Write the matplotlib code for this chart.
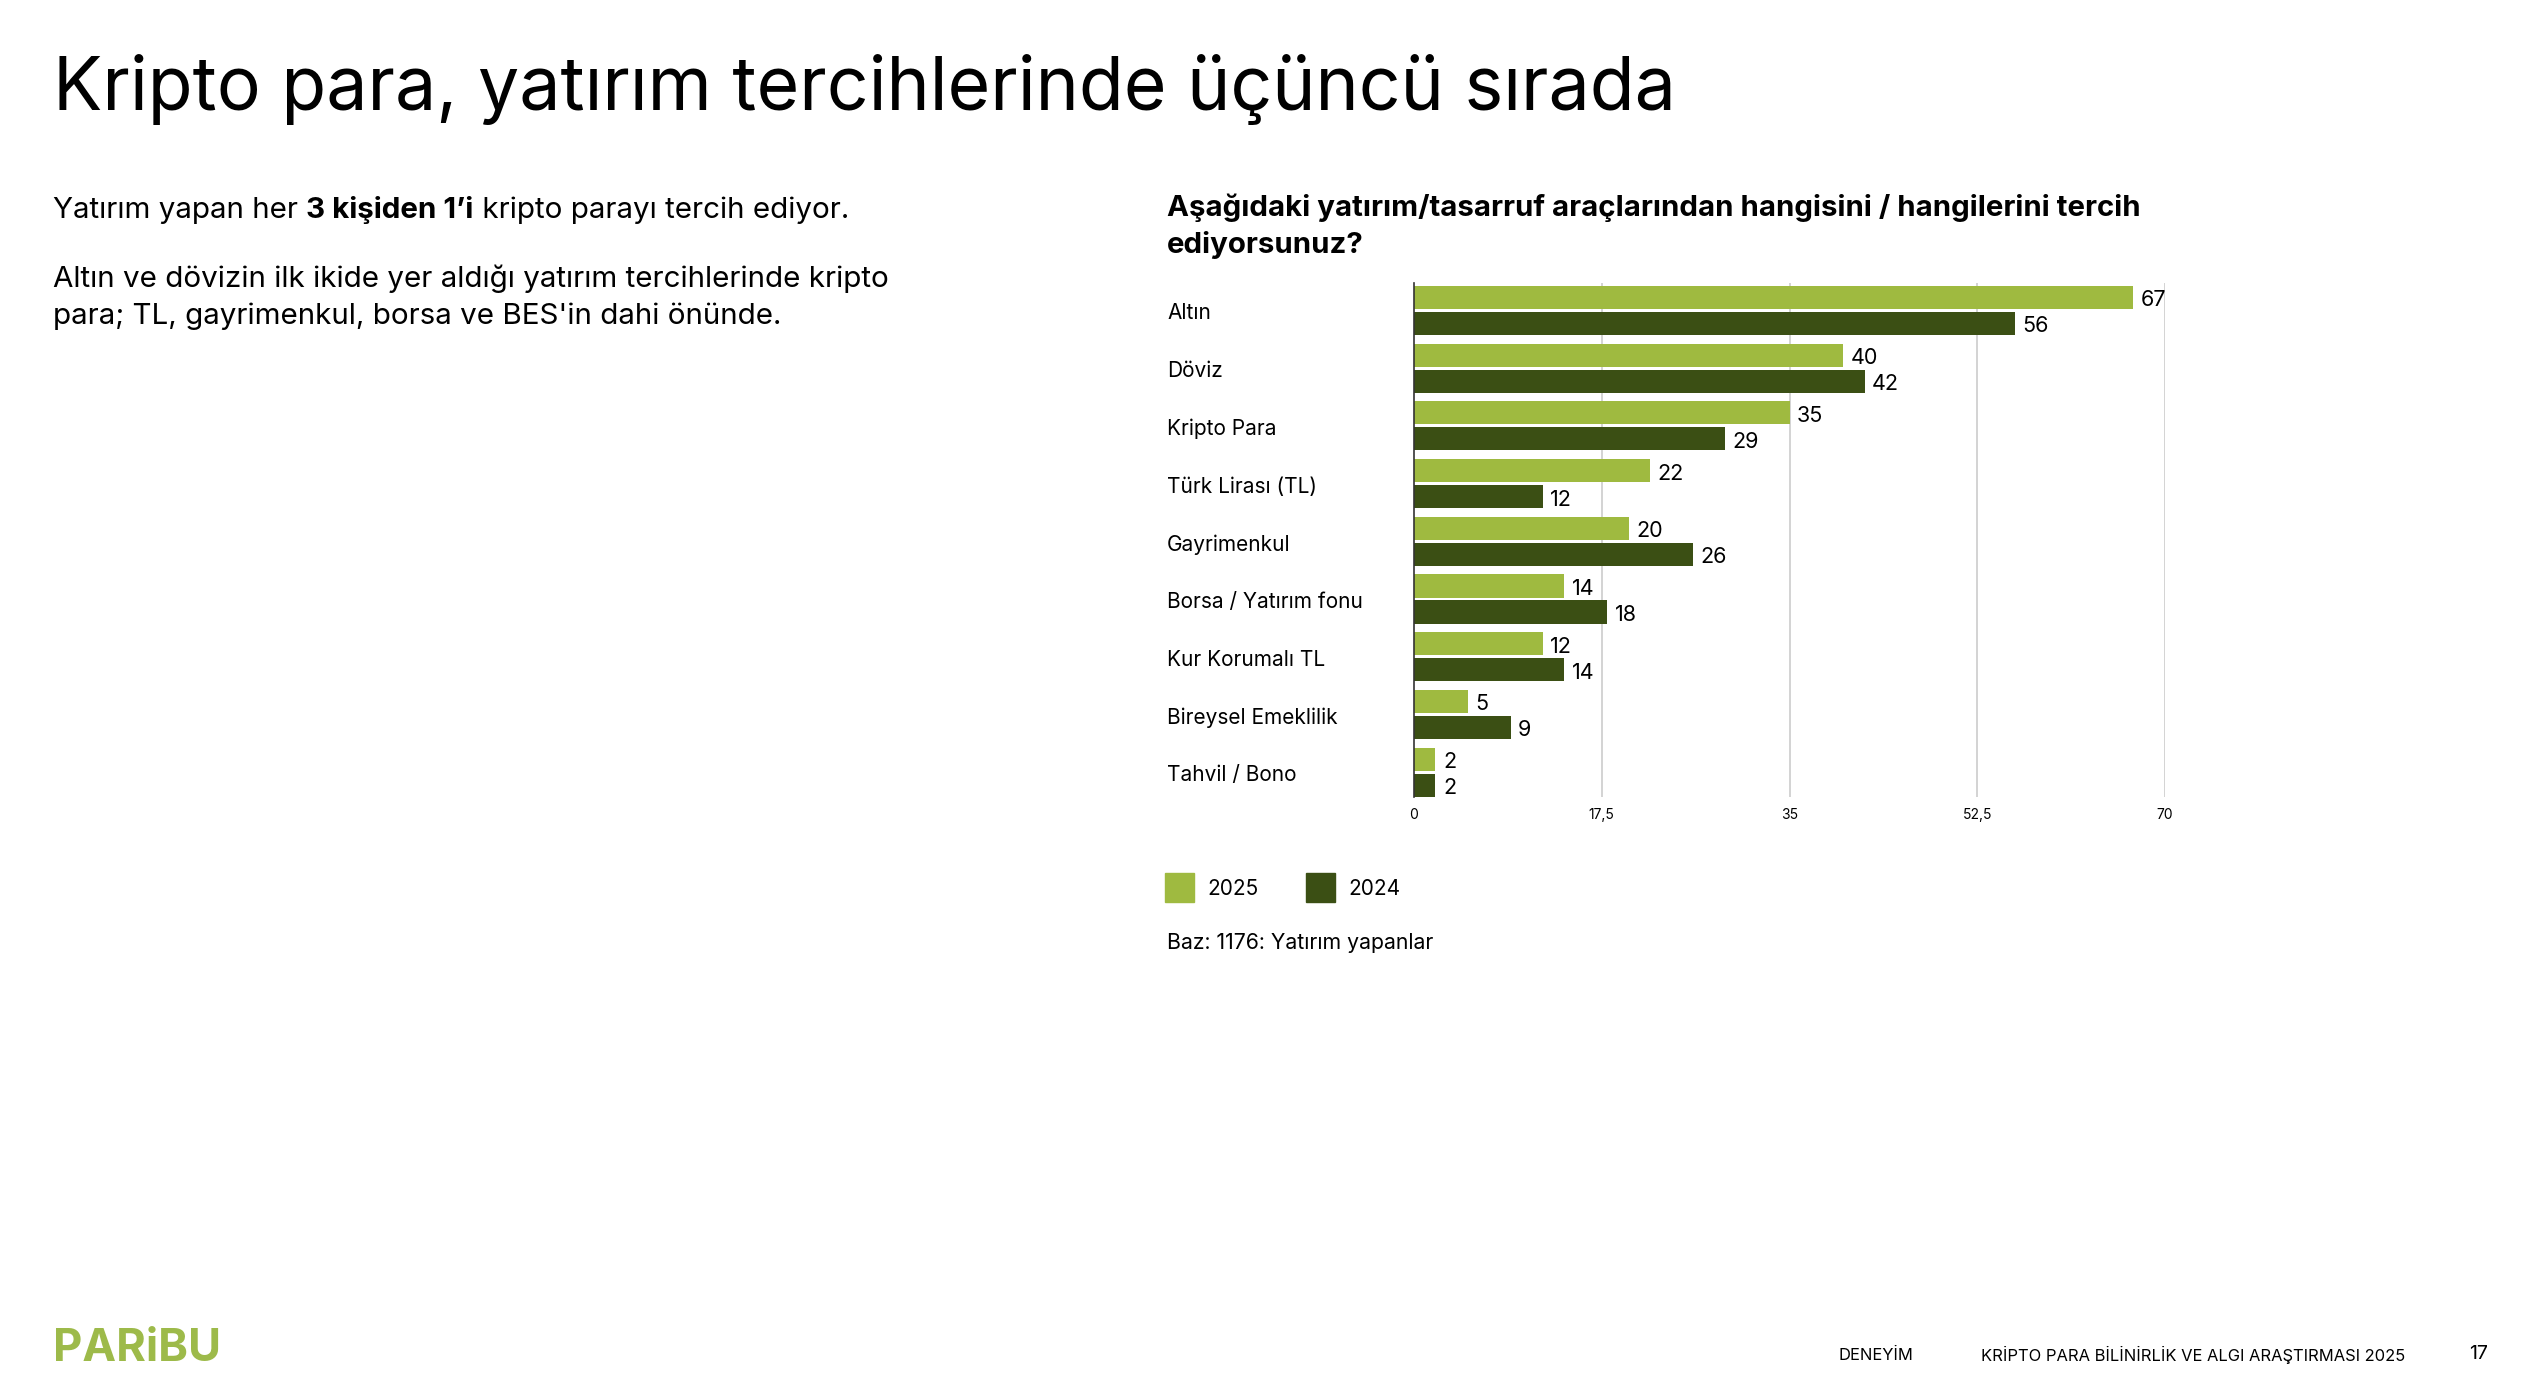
import matplotlib
matplotlib.use("Agg")
import matplotlib.pyplot as plt
import numpy as np
from matplotlib.transforms import offset_copy

categories = ["Altın", "Döviz", "Kripto Para", "Türk Lirası (TL)", "Gayrimenkul",
              "Borsa / Yatırım fonu", "Kur Korumalı TL", "Bireysel Emeklilik", "Tahvil / Bono"]
values_2025 = [67, 40, 35, 22, 20, 14, 12, 5, 2]
values_2024 = [56, 42, 29, 12, 26, 18, 14, 9, 2]
series_labels = ["2025", "2024"]
xticks = [0, 17.5, 35, 52.5, 70]
xtick_labels = ["0", "17,5", "35", "52,5", "70"]

C_LIGHT = "#9fba40"
C_DARK = "#3b4f14"
FONT = "Inter"

W, H = 2534, 1384
fig = plt.figure(figsize=(W / 100, H / 100), dpi=100)
fig.patch.set_facecolor("white")

def fx(px):
    return px / W

def fy(py):
    return 1 - py / H

# Title
fig.text(fx(53), fy(110), "Kripto para, yatırım tercihlerinde üçüncü sırada",
         fontsize=52.8, family=FONT, color="black", va="baseline", ha="left")

# Left text, line 1 with bold part
fig.canvas.draw()
renderer = fig.canvas.get_renderer()
parts = [("Yatırım yapan her ", "normal"), ("3 kişiden 1’i", "bold"),
         (" kripto parayı tercih ediyor.", "normal")]
BODY = 21.3
x = 53
for s, w in parts:
    t = fig.text(fx(x), fy(218), s, fontsize=BODY, family=FONT, weight=w,
                 va="baseline", ha="left", color="black")
    bb = t.get_window_extent(renderer=renderer)
    x += bb.width
fig.text(fx(53), fy(287), "Altın ve dövizin ilk ikide yer aldığı yatırım tercihlerinde kripto",
         fontsize=BODY, family=FONT, va="baseline", ha="left", color="black")
fig.text(fx(53), fy(324), "para; TL, gayrimenkul, borsa ve BES'in dahi önünde.",
         fontsize=BODY, family=FONT, va="baseline", ha="left", color="black")

# Chart title
fig.text(fx(1167), fy(216), "Aşağıdaki yatırım/tasarruf araçlarından hangisini / hangilerini tercih",
         fontsize=21.2, family=FONT, weight="bold", va="baseline", ha="left", color="black")
fig.text(fx(1167), fy(253), "ediyorsunuz?",
         fontsize=21.2, family=FONT, weight="bold", va="baseline", ha="left", color="black")

# Axes
ax_left, ax_right, ax_top, ax_bottom = 1414, 2165, 283, 797
ax = fig.add_axes([fx(ax_left), fy(ax_bottom), fx(ax_right - ax_left), (ax_bottom - ax_top) / H])
n = len(categories)
y = np.arange(n)
bh = 0.40
off = 0.225
ax.barh(y - off, values_2025, height=bh, color=C_LIGHT, zorder=3)
ax.barh(y + off, values_2024, height=bh, color=C_DARK, zorder=3)
ax.set_xlim(0, 70)
ax.set_ylim(n - 1 + off + bh / 2 + 0.005, -off - bh / 2 - 0.05)
ax.set_xticks(xticks)
ax.set_xticklabels(xtick_labels, family=FONT, fontsize=10)
ax.tick_params(axis="x", length=0, pad=8)
ax.set_yticks([])
for s in ["top", "right", "bottom"]:
    ax.spines[s].set_visible(False)
ax.spines["left"].set_color("#333333")
ax.spines["left"].set_linewidth(1.2)
ax.spines["left"].set_zorder(4)
for xt in xticks[1:]:
    ax.axvline(xt, color="#cccccc", linewidth=1.2, zorder=1)

# small downward shift so text centres match the bars visually
tdown = offset_copy(ax.transData, fig=fig, x=0, y=-3, units="dots")
for i in range(n):
    ax.text(values_2025[i] + 0.7, y[i] - off, str(values_2025[i]), va="center", ha="left",
            fontsize=15.5, family=FONT, color="black", transform=tdown)
    ax.text(values_2024[i] + 0.7, y[i] + off, str(values_2024[i]), va="center", ha="left",
            fontsize=15.5, family=FONT, color="black", transform=tdown)

# category labels at fixed figure x, aligned with group centres
for i in range(n):
    disp = ax.transData.transform((0, y[i]))
    fig.text(fx(1167), (disp[1] - 3) / H, categories[i], va="center", ha="left",
             fontsize=15, family=FONT, color="black")

# Legend
colors = [C_LIGHT, C_DARK]
leg_x = [1165, 1306]
for lab, c, lx in zip(series_labels, colors, leg_x):
    fig.patches.append(matplotlib.patches.Rectangle((fx(lx), fy(902)), fx(29), 29 / H,
                                                     transform=fig.transFigure, color=c))
    fig.text(fx(lx + 42), fy(889), lab, va="center", ha="left", fontsize=15, family=FONT, color="black")

fig.text(fx(1167), fy(943), "Baz: 1176: Yatırım yapanlar", va="center", ha="left",
         fontsize=15.3, family=FONT, color="black")

# Footer
fig.text(fx(53), fy(1349), "PARiBU", va="center", ha="left", fontsize=32.5, family=FONT,
         weight="bold", color="#9dba4a")
fig.text(fx(1839), fy(1355), "DENEYİM", va="center", ha="left", fontsize=11.9, family=FONT, color="black")
fig.text(fx(1981), fy(1355), "KRİPTO PARA BİLİNİRLİK VE ALGI ARAŞTIRMASI 2025", va="center", ha="left",
         fontsize=11.9, family=FONT, color="black")
fig.text(fx(2469), fy(1354), "17", va="center", ha="left", fontsize=14, family=FONT, color="black")

fig.savefig("out.png", dpi=100)
